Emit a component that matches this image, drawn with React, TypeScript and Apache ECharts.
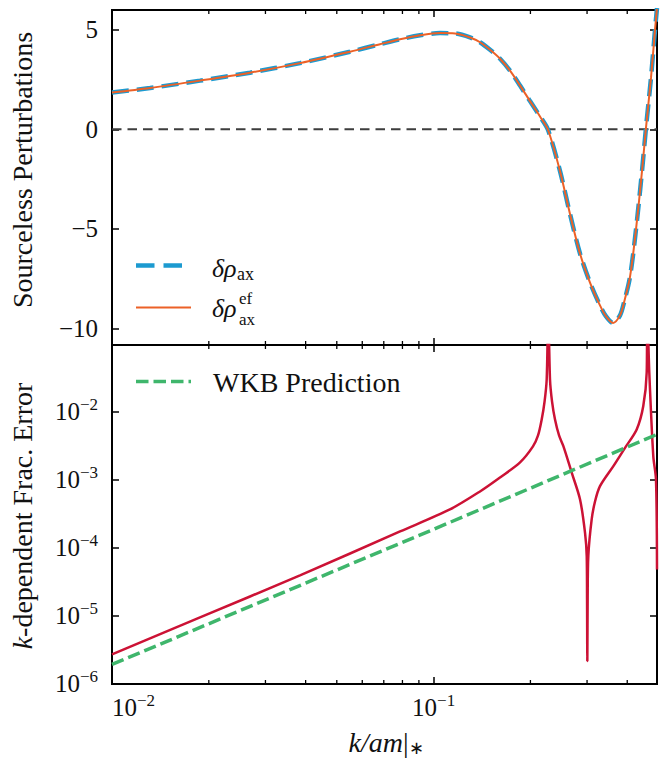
import React, { useEffect, useRef } from 'react';
import * as echarts from 'echarts';

// ---- data ----
const kTop = [0.01, 0.01313, 0.01878, 0.02686, 0.03842, 0.05495, 0.06812, 0.07865, 0.09073, 0.1047, 0.1166, 0.1298, 0.1394, 0.1498, 0.1609, 0.1728, 0.1857, 0.1994, 0.2142, 0.2268, 0.2472, 0.2655, 0.2853, 0.3064, 0.3291, 0.3437, 0.3613, 0.3799, 0.3909, 0.4081, 0.4261, 0.4446, 0.4576, 0.4742, 0.488, 0.495];
const rhoAx = [1.85, 2.08, 2.45, 2.85, 3.33, 3.9, 4.28, 4.53, 4.73, 4.84, 4.82, 4.62, 4.38, 4.0, 3.55, 2.95, 2.2, 1.42, 0.65, -0.02, -2.1, -4.25, -6.25, -7.7, -8.85, -9.4, -9.73, -9.35, -8.7, -7.4, -5.0, -2.1, 0.1, 2.6, 5.0, 6.1];
const rhoAxEf = [1.85, 2.08, 2.45, 2.85, 3.33, 3.9, 4.28, 4.53, 4.73, 4.84, 4.82, 4.62, 4.38, 4.0, 3.55, 2.95, 2.2, 1.42, 0.65, -0.02, -2.1, -4.25, -6.25, -7.7, -8.85, -9.4, -9.73, -9.35, -8.7, -7.4, -5.0, -2.1, 0.1, 2.6, 5.0, 6.1];

const kErr = [0.01, 0.01878, 0.03842, 0.07865, 0.1124, 0.1394, 0.1609, 0.1857, 0.2037, 0.2112, 0.2168, 0.2213, 0.2247, 0.2273, 0.2301, 0.2335, 0.2385, 0.2455, 0.2532, 0.2688, 0.2853, 0.2957, 0.2993, 0.3, 0.3006, 0.3013, 0.3027, 0.3101, 0.3176, 0.3291, 0.3622, 0.3937, 0.428, 0.4487, 0.4598, 0.4617, 0.4684, 0.482, 0.4914, 0.495];
const fracErr = [2.67e-6, 9.35e-6, 3.88e-5, 1.72e-4, 3.62e-4, 6.66e-4, 1.07e-3, 1.78e-3, 3.06e-3, 4.44e-3, 7.62e-3, 1.4e-2, 2.96e-2, 0.3, 2.96e-2, 1.4e-2, 7.62e-3, 4.44e-3, 3.09e-3, 1.26e-3, 5.08e-4, 1.64e-4, 7.45e-5, 1.72e-5, 2.13e-6, 1.72e-5, 7.45e-5, 2.58e-4, 4.74e-4, 7.96e-4, 1.57e-3, 2.92e-3, 5.43e-3, 1.2e-2, 3.75e-2, 0.3, 3.75e-2, 2.2e-3, 1.0e-3, 4.74e-5];

const kWkb = [0.01, 0.1, 0.495];
const wkb = [1.9e-6, 1.85e-4, 4.6e-3];

const minorTicksX = [0.02, 0.03, 0.04, 0.05, 0.06, 0.07, 0.08, 0.09, 0.2, 0.3, 0.4];
const X_MIN = 0.01;
const X_MAX = 0.495;
const TOP_MIN = -10.84;
const TOP_MAX = 6.0;
const ERR_MIN = 0.98e-6;
const ERR_MAX = 0.095;

// ---- styles ----
const F = 'Liberation Serif';
const INK = '#111';
const BLUE = '#1c9ad0';
const ORANGE = '#ec6127';
const RED = '#cc1235';
const GREEN = '#3fb66c';

function pow10Label(v: number) {
  const l = Math.log10(v);
  const e = Math.round(l);
  if (Math.abs(l - e) > 1e-6) return '';
  return `{b|10}{s|${e < 0 ? '\u2212' : ''}${Math.abs(e)}}`;
}
const powRich = {
  b: { fontSize: 25, fontFamily: F, color: INK, lineHeight: 30 },
  s: { fontSize: 17, fontFamily: F, color: INK, lineHeight: 15, verticalAlign: 'top' },
};

const tickStyle = { show: true, inside: true, length: 7, lineStyle: { color: '#000', width: 1.5 } };

function minorTickRender(params: any, api: any) {
  const x = api.coord([api.value(0), api.value(1)])[0];
  const cs = params.coordSys;
  const st = { stroke: '#000', lineWidth: 1.3 };
  return {
    type: 'group',
    children: [
      { type: 'line', shape: { x1: x, y1: cs.y, x2: x, y2: cs.y + 4 }, style: st },
      { type: 'line', shape: { x1: x, y1: cs.y + cs.height, x2: x, y2: cs.y + cs.height - 4 }, style: st },
    ],
  };
}

function txt(x: number, y: number, text: string, size: number, extra: any = {}) {
  return {
    type: 'text',
    x,
    y,
    silent: true,
    style: {
      text,
      fontSize: size,
      fontFamily: F,
      fill: INK,
      align: 'left',
      textAlign: 'left',
      verticalAlign: 'middle',
      textVerticalAlign: 'middle',
      ...extra,
    },
  };
}

export default function App() {
  const ref = useRef<HTMLDivElement>(null);
  useEffect(() => {
    if (!ref.current) return;
    const chart = echarts.init(ref.current, undefined, { renderer: 'svg' });
    const xBase: any = {
      type: 'log',
      logBase: 10,
      min: X_MIN,
      max: X_MAX,
      splitLine: { show: false },
      axisLine: { show: false, onZero: false },
      axisTick: tickStyle,
      minorTick: { show: false },
    };
    const yTop: any = {
      type: 'value',
      gridIndex: 0,
      min: TOP_MIN,
      max: TOP_MAX,
      splitNumber: 3,
      splitLine: { show: false },
      axisLine: { show: false, onZero: false },
      axisTick: tickStyle,
    };
    const yErr: any = {
      type: 'log',
      logBase: 10,
      gridIndex: 1,
      min: ERR_MIN,
      max: ERR_MAX,
      splitLine: { show: false },
      axisLine: { show: false, onZero: false },
      axisTick: tickStyle,
      minorTick: { show: false },
    };
    const option: any = {
      animation: false,
      backgroundColor: '#fff',
      grid: [
        { left: 112, top: 10, width: 545, height: 335, show: true, borderColor: '#000', borderWidth: 2, backgroundColor: 'transparent' },
        { left: 112, top: 345, width: 545, height: 339, show: true, borderColor: '#000', borderWidth: 2, backgroundColor: 'transparent' },
      ],
      xAxis: [
        { ...xBase, gridIndex: 0, position: 'bottom', axisLabel: { show: false } },
        { ...xBase, gridIndex: 0, position: 'top', axisLabel: { show: false } },
        {
          ...xBase,
          gridIndex: 1,
          position: 'bottom',
          axisLabel: { show: true, formatter: pow10Label, rich: powRich, margin: 8, alignMinLabel: 'left' },
        },
        { ...xBase, gridIndex: 1, position: 'top', axisLabel: { show: false } },
      ],
      yAxis: [
        {
          ...yTop,
          position: 'left',
          axisLabel: {
            show: true,
            margin: 14,
            fontSize: 25,
            fontFamily: F,
            color: INK,
            formatter: (v: number) => (Math.abs(v % 5) < 1e-9 ? String(v).replace('-', '\u2212') : ''),
          },
        },
        { ...yTop, position: 'right', axisLabel: { show: false } },
        { ...yErr, position: 'left', axisLabel: { show: true, formatter: pow10Label, rich: powRich, margin: 14 } },
        { ...yErr, position: 'right', axisLabel: { show: false } },
      ],
      series: [
        {
          type: 'line',
          xAxisIndex: 0,
          yAxisIndex: 0,
          data: [[X_MIN, 0], [X_MAX, 0]],
          symbol: 'none',
          silent: true,
          lineStyle: { color: '#3d3d3d', width: 2, type: [9.5, 6] },
          z: 1,
        },
        {
          type: 'line',
          xAxisIndex: 0,
          yAxisIndex: 0,
          data: kTop.map((k, i) => [k, rhoAx[i]]),
          symbol: 'none',
          smooth: 0.3,
          lineStyle: { color: BLUE, width: 4.5, type: [17, 8] },
          z: 2,
        },
        {
          type: 'line',
          xAxisIndex: 0,
          yAxisIndex: 0,
          data: kTop.map((k, i) => [k, rhoAxEf[i]]),
          symbol: 'none',
          smooth: 0.3,
          lineStyle: { color: ORANGE, width: 2 },
          z: 3,
        },
        {
          type: 'line',
          xAxisIndex: 2,
          yAxisIndex: 2,
          data: kErr.map((k, i) => [k, fracErr[i]]),
          symbol: 'none',
          smooth: 0.3,
          lineStyle: { color: RED, width: 2.5 },
          z: 2,
        },
        {
          type: 'line',
          xAxisIndex: 2,
          yAxisIndex: 2,
          data: kWkb.map((k, i) => [k, wkb[i]]),
          symbol: 'none',
          lineStyle: { color: GREEN, width: 3.5, type: [12.5, 5] },
          z: 3,
        },
        {
          type: 'custom',
          xAxisIndex: 0,
          yAxisIndex: 0,
          data: minorTicksX.map((k) => [k, 0]),
          renderItem: minorTickRender,
          silent: true,
          z: 5,
        },
        {
          type: 'custom',
          xAxisIndex: 2,
          yAxisIndex: 2,
          data: minorTicksX.map((k) => [k, 1e-3]),
          renderItem: minorTickRender,
          silent: true,
          z: 5,
        },
      ],
      graphic: [
        {
          type: 'text',
          x: 22,
          y: 170,
          rotation: Math.PI / 2,
          silent: true,
          style: {
            text: 'Sourceless Perturbations',
            fontSize: 28,
            fontFamily: F,
            fill: INK,
            align: 'center',
            textAlign: 'center',
            verticalAlign: 'middle',
            textVerticalAlign: 'middle',
          },
        },
        {
          type: 'text',
          x: 22,
          y: 516,
          rotation: Math.PI / 2,
          silent: true,
          style: {
            text: '{i|k}{n|-dependent Frac. Error}',
            fontSize: 28,
            fontFamily: F,
            fill: INK,
            align: 'center',
            textAlign: 'center',
            verticalAlign: 'middle',
            textVerticalAlign: 'middle',
            rich: {
              i: { fontSize: 28, fontFamily: F, fontStyle: 'italic', fill: INK },
              n: { fontSize: 28, fontFamily: F, fill: INK },
            },
          },
        },
        {
          type: 'text',
          x: 386,
          y: 742,
          silent: true,
          style: {
            text: '{i|k/am}{n||}{u|\u2217}',
            fontSize: 28,
            fontFamily: F,
            fill: INK,
            align: 'center',
            textAlign: 'center',
            verticalAlign: 'middle',
            textVerticalAlign: 'middle',
            rich: {
              i: { fontSize: 28, fontFamily: F, fontStyle: 'italic', fill: INK, lineHeight: 30 },
              n: { fontSize: 28, fontFamily: F, fill: INK, lineHeight: 30 },
              u: { fontSize: 18, fontFamily: F, fill: INK, lineHeight: 14, verticalAlign: 'bottom' },
            },
          },
        },
        { type: 'line', silent: true, shape: { x1: 136, y1: 265.5, x2: 191, y2: 265.5 }, style: { stroke: BLUE, lineWidth: 4.5, lineDash: [18.5, 9] } },
        txt(212, 268, '\u03b4\u03c1', 26, { fontStyle: 'italic' }),
        txt(237, 274, 'ax', 18),
        { type: 'line', silent: true, shape: { x1: 136, y1: 307.5, x2: 191, y2: 307.5 }, style: { stroke: ORANGE, lineWidth: 2 } },
        txt(212, 308, '\u03b4\u03c1', 26, { fontStyle: 'italic' }),
        txt(239, 298.5, 'ef', 17),
        txt(239, 319.5, 'ax', 17),
        { type: 'line', silent: true, shape: { x1: 136, y1: 381.5, x2: 191, y2: 381.5 }, style: { stroke: GREEN, lineWidth: 3.5, lineDash: [12.5, 5] } },
        txt(213, 382, 'WKB Prediction', 28),
      ],
    };
    chart.setOption(option);
    return () => chart.dispose();
  }, []);
  return <div ref={ref} style={{ position: 'fixed', left: 0, top: 0, width: 667, height: 758 }} />;
}
